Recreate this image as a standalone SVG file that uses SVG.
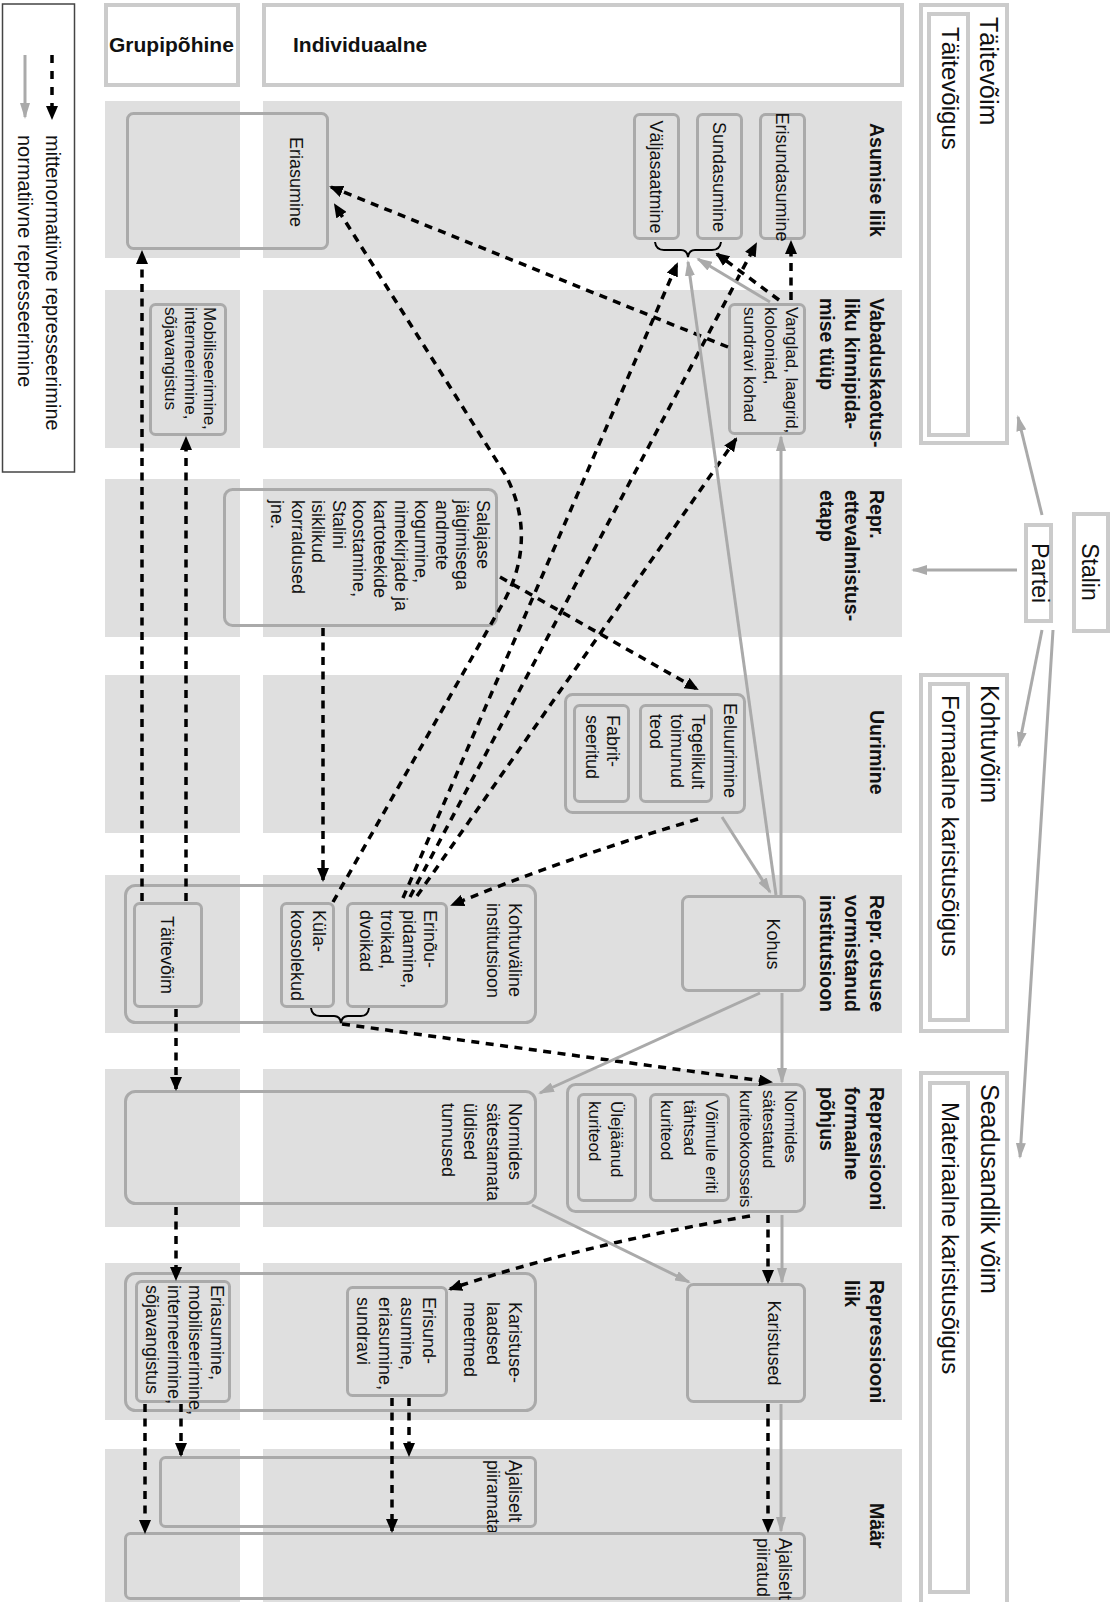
<svg xmlns="http://www.w3.org/2000/svg" width="1120" height="1602" viewBox="0 0 1120 1602">
<style>
text{font-family:"Liberation Sans",Arial,sans-serif;fill:#111}
.n{font-size:18px}
.n17{font-size:17px}
.b{font-size:19.5px;font-weight:bold}
.h{font-size:21px;font-weight:bold}
.big{font-size:25px}
.mid{font-size:24px}
.st{font-size:23px}
.lg{font-size:20px}
.band{fill:#dfdfdf}
.bx{fill:none;stroke:#aaa;stroke-width:3}
.rb{fill:none;stroke:#cbcbcb;stroke-width:4}
.d{fill:none;stroke:#000;stroke-width:3.5;stroke-dasharray:8 6.5;marker-end:url(#ab)}
.g{fill:none;stroke:#aaa;stroke-width:3;marker-end:url(#ag)}
.br{fill:none;stroke:#000;stroke-width:2}
</style>
<defs>
<marker id="ab" viewBox="0 0 14 12" refX="12" refY="6" markerWidth="14" markerHeight="12" markerUnits="userSpaceOnUse" orient="auto"><path d="M0,0 L14,6 L0,12 z" fill="#000"/></marker>
<marker id="ag" viewBox="0 0 16 10" refX="14" refY="5" markerWidth="16" markerHeight="10" markerUnits="userSpaceOnUse" orient="auto"><path d="M0,0 L16,5 L0,10 z" fill="#aaa"/></marker>
</defs>
<rect width="1120" height="1602" fill="#fff"/>

<g id="bands">
<rect class="band" x="105" y="101" width="135" height="157"/><rect class="band" x="263" y="101" width="639" height="157"/>
<rect class="band" x="105" y="290" width="135" height="158"/><rect class="band" x="263" y="290" width="639" height="158"/>
<rect class="band" x="105" y="479" width="135" height="158"/><rect class="band" x="263" y="479" width="639" height="158"/>
<rect class="band" x="105" y="675" width="135" height="158"/><rect class="band" x="263" y="675" width="639" height="158"/>
<rect class="band" x="105" y="875" width="135" height="158"/><rect class="band" x="263" y="875" width="639" height="158"/>
<rect class="band" x="105" y="1069" width="135" height="158"/><rect class="band" x="263" y="1069" width="639" height="158"/>
<rect class="band" x="105" y="1263" width="135" height="157"/><rect class="band" x="263" y="1263" width="639" height="157"/>
<rect class="band" x="105" y="1449" width="135" height="160"/><rect class="band" x="263" y="1449" width="639" height="160"/>
</g>

<g id="legend">
<rect x="2.5" y="4" width="72" height="468" fill="none" stroke="#444" stroke-width="1.5"/>
<path d="M52,55 L52,118" style="fill:none;stroke:#000;stroke-width:3.5;stroke-dasharray:8 8;marker-end:url(#ab)"/>
<path d="M25,55 L25,117" style="fill:none;stroke:#aaa;stroke-width:3;marker-end:url(#ag)"/>
<text class="lg" transform="translate(46,135) rotate(90)">mittenormatiivne represseerimine</text>
<text class="lg" transform="translate(18,135) rotate(90)">normatiivne represseerimine</text>
</g>

<g id="headers">
<rect class="rb" x="106" y="5" width="132" height="80"/>
<text class="h" x="109" y="52">Grupipõhine</text>
<rect class="rb" x="264" y="5" width="638" height="80"/>
<text class="h" x="293" y="52">Individuaalne</text>
</g>

<g id="row-labels">
<text class="b" transform="translate(870,123) rotate(90)">Asumise liik</text>
<text class="b" transform="translate(870,298) rotate(90)"><tspan x="0" dy="0">Vabaduskaotus-</tspan><tspan x="0" dy="25">liku kinnipida-</tspan><tspan x="0" dy="25">mise tüüp</tspan></text>
<text class="b" transform="translate(870,490) rotate(90)"><tspan x="0" dy="0">Repr.</tspan><tspan x="0" dy="25">ettevalmistus-</tspan><tspan x="0" dy="25">etapp</tspan></text>
<text class="b" transform="translate(870,710) rotate(90)">Uurimine</text>
<text class="b" transform="translate(870,895) rotate(90)"><tspan x="0" dy="0">Repr. otsuse</tspan><tspan x="0" dy="25">vormistanud</tspan><tspan x="0" dy="25">institutsioon</tspan></text>
<text class="b" transform="translate(870,1087) rotate(90)"><tspan x="0" dy="0">Repressiooni</tspan><tspan x="0" dy="25">formaalne</tspan><tspan x="0" dy="25">põhjus</tspan></text>
<text class="b" transform="translate(870,1280) rotate(90)"><tspan x="0" dy="0">Repressiooni</tspan><tspan x="0" dy="25">liik</tspan></text>
<text class="b" transform="translate(870,1503) rotate(90)">Määr</text>
</g>

<g id="power-taitev">
<rect class="rb" x="921" y="5" width="86" height="438"/>
<rect class="rb" x="929" y="14" width="39" height="421"/>
<text class="big" transform="translate(980,17) rotate(90)">Täitevõim</text>
<text class="mid" transform="translate(942,27) rotate(90)">Täitevõigus</text>
</g>
<g id="power-kohtu">
<rect class="rb" x="921" y="675" width="86" height="356"/>
<rect class="rb" x="930" y="684" width="38" height="336"/>
<text class="big" transform="translate(981,685) rotate(90)">Kohtuvõim</text>
<text class="mid" transform="translate(942,695) rotate(90)">Formaalne karistusõigus</text>
</g>
<g id="power-seadus">
<rect class="rb" x="921" y="1073" width="86" height="545"/>
<rect class="rb" x="930" y="1083" width="38" height="509"/>
<text class="big" transform="translate(981,1084) rotate(90)">Seadusandlik võim</text>
<text class="mid" transform="translate(942,1102) rotate(90)">Materiaalne karistusõigus</text>
</g>
<g id="stalin">
<rect class="rb" x="1074" y="514" width="34" height="117"/>
<text class="st" text-anchor="middle" transform="translate(1082,572) rotate(90)">Stalin</text>
</g>
<g id="partei">
<rect class="rb" x="1026" y="525" width="25" height="96"/>
<text class="st" text-anchor="middle" transform="translate(1032,573) rotate(90)">Partei</text>
</g>

<g id="n-eriasumine">
<rect class="bx" x="127.5" y="113.5" width="200" height="135" rx="6"/>
<text class="n" text-anchor="middle" transform="translate(290,182) rotate(90)">Eriasumine</text>
</g>
<g id="n-valjasaatmine">
<rect class="bx" x="634.5" y="114.5" width="44" height="124" rx="5"/>
<text class="n" text-anchor="middle" transform="translate(650,177) rotate(90)">Väljasaatmine</text>
</g>
<g id="n-sundasumine">
<rect class="bx" x="697.5" y="114.5" width="44" height="124" rx="5"/>
<text class="n" text-anchor="middle" transform="translate(713,177) rotate(90)">Sundasumine</text>
</g>
<g id="n-erisundasumine">
<rect class="bx" x="760.5" y="114.5" width="44" height="124" rx="5"/>
<text class="n" text-anchor="middle" transform="translate(776,177) rotate(90)">Erisundasumine</text>
</g>
<g id="n-mobiliseerimine">
<rect class="bx" x="150.5" y="304.5" width="75" height="130" rx="5"/>
<text class="n17" transform="translate(204,307) rotate(90)"><tspan x="0" dy="0">Mobiliseerimine,</tspan><tspan x="0" dy="19.5">interneerimine,</tspan><tspan x="0" dy="19.5">sõjavangistus</tspan></text>
</g>
<g id="n-vanglad">
<rect class="bx" x="729.5" y="304.5" width="75" height="129" rx="5"/>
<text class="n17" transform="translate(786,307) rotate(90)"><tspan x="0" dy="0">Vanglad, laagrid,</tspan><tspan x="0" dy="21">kolooniad,</tspan><tspan x="0" dy="21">sundravi kohad</tspan></text>
</g>
<g id="n-salajase">
<rect class="bx" x="224.5" y="489.5" width="272" height="136" rx="8"/>
<text class="n" transform="translate(477,500) rotate(90)"><tspan x="0" dy="0">Salajase</tspan><tspan x="0" dy="20.6">jälgimisega</tspan><tspan x="0" dy="20.6">andmete</tspan><tspan x="0" dy="20.6">kogumine,</tspan><tspan x="0" dy="20.6">nimekirjade ja</tspan><tspan x="0" dy="20.6">kartoteekide</tspan><tspan x="0" dy="20.6">koostamine,</tspan><tspan x="0" dy="20.6">Stalini</tspan><tspan x="0" dy="20.6">isiklikud</tspan><tspan x="0" dy="20.6">korraldused</tspan><tspan x="0" dy="20.6">jne.</tspan></text>
</g>
<g id="n-eeluurimine">
<rect class="bx" x="565.5" y="694.5" width="179" height="118" rx="7"/>
<text class="n" transform="translate(724,703) rotate(90)">Eeluurimine</text>
</g>
<g id="n-tegelikult">
<rect class="bx" x="640.5" y="705.5" width="71" height="96" rx="5"/>
<text class="n" transform="translate(692,714) rotate(90)"><tspan x="0" dy="0">Tegelikult</tspan><tspan x="0" dy="21">toimunud</tspan><tspan x="0" dy="21">teod</tspan></text>
</g>
<g id="n-fabrit">
<rect class="bx" x="574.5" y="705.5" width="54" height="96" rx="5"/>
<text class="n" transform="translate(607,715) rotate(90)"><tspan x="0" dy="0">Fabrit-</tspan><tspan x="0" dy="21">seeritud</tspan></text>
</g>
<g id="n-kohtuvaline">
<rect class="bx" x="125.5" y="885.5" width="410" height="137" rx="10"/>
<text class="n" transform="translate(509,903) rotate(90)"><tspan x="0" dy="0">Kohtuväline</tspan><tspan x="0" dy="22">institutsioon</tspan></text>
</g>
<g id="n-taitevoim">
<rect class="bx" x="134.5" y="903.5" width="67" height="103" rx="5"/>
<text class="n" text-anchor="middle" transform="translate(161,955) rotate(90)">Täitevõim</text>
</g>
<g id="n-kula">
<rect class="bx" x="281.5" y="903.5" width="52" height="103" rx="5"/>
<text class="n" transform="translate(313,910) rotate(90)"><tspan x="0" dy="0">Küla-</tspan><tspan x="0" dy="22">koosolekud</tspan></text>
</g>
<g id="n-erinou">
<rect class="bx" x="347.5" y="903.5" width="99" height="103" rx="5"/>
<text class="n" transform="translate(424,910) rotate(90)"><tspan x="0" dy="0">Erinõu-</tspan><tspan x="0" dy="21.5">pidamine,</tspan><tspan x="0" dy="21.5">troikad,</tspan><tspan x="0" dy="21.5">dvoikad</tspan></text>
</g>
<g id="n-kohus">
<rect class="bx" x="682.5" y="896.5" width="122" height="94" rx="6"/>
<text class="n" text-anchor="middle" transform="translate(767,944) rotate(90)">Kohus</text>
</g>
<g id="n-satestamata">
<rect class="bx" x="125.5" y="1091.5" width="410" height="112" rx="10"/>
<text class="n" transform="translate(509,1103) rotate(90)"><tspan x="0" dy="0">Normides</tspan><tspan x="0" dy="22.5">sätestamata</tspan><tspan x="0" dy="22.5">üldised</tspan><tspan x="0" dy="22.5">tunnused</tspan></text>
</g>
<g id="n-satestatud">
<rect class="bx" x="567.5" y="1084.5" width="237" height="127" rx="8"/>
<text class="n17" transform="translate(785,1090) rotate(90)"><tspan x="0" dy="0">Normides</tspan><tspan x="0" dy="22.5">sätestatud</tspan><tspan x="0" dy="22.5">kuriteokoosseis</tspan></text>
</g>
<g id="n-voimule">
<rect class="bx" x="650.5" y="1094.5" width="78" height="106" rx="5"/>
<text class="n17" transform="translate(706,1100) rotate(90)"><tspan x="0" dy="0">Võimule eriti</tspan><tspan x="0" dy="22.5">tähtsad</tspan><tspan x="0" dy="22.5">kuriteod</tspan></text>
</g>
<g id="n-ulejaanud">
<rect class="bx" x="578.5" y="1094.5" width="57" height="106" rx="5"/>
<text class="n17" transform="translate(611,1101) rotate(90)"><tspan x="0" dy="0">Ülejäänud</tspan><tspan x="0" dy="22">kuriteod</tspan></text>
</g>
<g id="n-karistuselaadsed">
<rect class="bx" x="125.5" y="1273.5" width="410" height="137" rx="10"/>
<text class="n" transform="translate(509,1302) rotate(90)"><tspan x="0" dy="0">Karistuse-</tspan><tspan x="0" dy="22.5">laadsed</tspan><tspan x="0" dy="22.5">meetmed</tspan></text>
</g>
<g id="n-eriasumine-grupp">
<rect class="bx" x="136.5" y="1281.5" width="93" height="120" rx="5"/>
<text class="n" transform="translate(211,1285) rotate(90)"><tspan x="0" dy="0">Eriasumine,</tspan><tspan x="0" dy="21.7">mobiliseerimine,</tspan><tspan x="0" dy="21.7">interneerimine,</tspan><tspan x="0" dy="21.7">sõjavangistus</tspan></text>
</g>
<g id="n-erisund">
<rect class="bx" x="347.5" y="1287.5" width="99" height="108" rx="5"/>
<text class="n" transform="translate(423,1297) rotate(90)"><tspan x="0" dy="0">Erisund-</tspan><tspan x="0" dy="22">asumine,</tspan><tspan x="0" dy="22">eriasumine,</tspan><tspan x="0" dy="22">sundravi</tspan></text>
</g>
<g id="n-karistused">
<rect class="bx" x="687.5" y="1284.5" width="117" height="117" rx="6"/>
<text class="n" text-anchor="middle" transform="translate(768,1343) rotate(90)">Karistused</text>
</g>
<g id="n-piiramata">
<rect class="bx" x="160.5" y="1457.5" width="375" height="69" rx="5"/>
<text class="n" transform="translate(509,1460) rotate(90)"><tspan x="0" dy="0">Ajaliselt</tspan><tspan x="0" dy="22">piiramata</tspan></text>
</g>
<g id="n-piiratud">
<rect class="bx" x="125.5" y="1533.5" width="679" height="65" rx="5"/>
<text class="n" transform="translate(779,1538) rotate(90)"><tspan x="0" dy="0">Ajaliselt</tspan><tspan x="0" dy="22">piiratud</tspan></text>
</g>

<g id="braces">
<path class="br" d="M655,242 Q656,250 664,250 L681,250 Q687,250 688,257 Q689,250 695,250 L712,250 Q720,250 721,242"/>
<path class="br" d="M311,1008 Q312,1016 320,1016 L334,1016 Q340,1016 341,1023 Q342,1016 348,1016 L361,1016 Q368,1016 369,1008"/>
</g>

<g id="connectors">
<path class="d" d="M728,347 L331,187"/>
<path class="d" d="M333,902 L503,603 C524,566 530,520 505,474 L335,205"/>
<path class="d" d="M779,300 L717,254"/>
<path class="d" d="M791,300 L791,242"/>
<path class="d" d="M403,898 L677,264"/>
<path class="d" d="M410,897 L756,244"/>
<path class="d" d="M417,896 L736,439"/>
<path class="d" d="M500,577 L697,689"/>
<path class="d" d="M698,819 Q560,860 452,905"/>
<path class="d" d="M323,628 L323,880"/>
<path class="d" d="M342,1024 L771,1082"/>
<path class="d" d="M768,1215 L768,1282"/>
<path class="d" d="M750,1216 Q580,1245 450,1289"/>
<path class="d" d="M142,901 L142,252"/>
<path class="d" d="M186,901 L186,438"/>
<path class="d" d="M176,1009 L176,1089"/>
<path class="d" d="M176,1207 L176,1279"/>
<path class="d" d="M145,1404 L145,1532"/>
<path class="d" d="M181,1404 L181,1455"/>
<path class="d" d="M392,1398 L392,1531"/>
<path class="d" d="M409,1398 L409,1455"/>
<path class="d" d="M768,1404 L768,1531"/>
<path class="g" d="M770,302 L698,259"/>
<path class="g" d="M776,895 L688,262"/>
<path class="g" d="M781,895 L781,437"/>
<path class="g" d="M722,817 L770,892"/>
<path class="g" d="M782,993 L782,1082"/>
<path class="g" d="M760,993 L540,1093"/>
<path class="g" d="M532,1205 L689,1282"/>
<path class="g" d="M782,1215 L782,1282"/>
<path class="g" d="M781,1404 L781,1531"/>
<path class="g" d="M1042,515 L1018,417"/>
<path class="g" d="M1017,570 L913,570"/>
<path class="g" d="M1042,630 L1019,746"/>
<path class="g" d="M1053,630 L1020,1157"/>
</g>
</svg>
